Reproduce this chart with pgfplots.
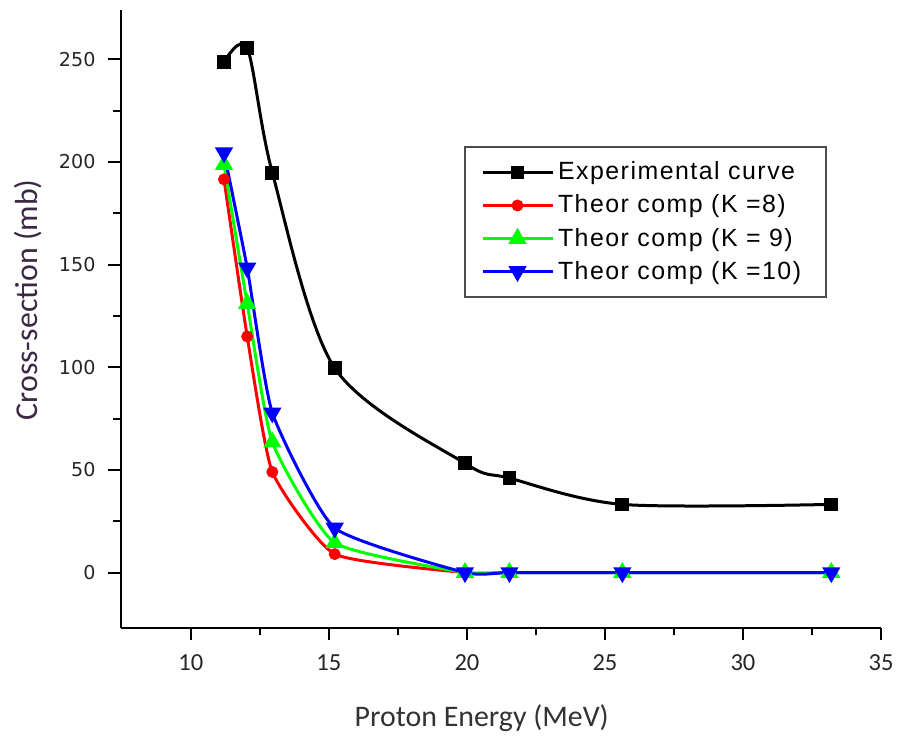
\documentclass[border=0pt]{standalone}
\usepackage{fontspec}
\setmainfont{Carlito}
\newfontfamily\legfont[LetterSpace=6]{Liberation Sans}
\newfontfamily\ytfont{DejaVu Sans}
\usepackage{pgfplots}
\pgfplotsset{compat=1.18}
\definecolor{xgreen}{RGB}{0,255,0}
\definecolor{xblue}{RGB}{0,0,255}
\definecolor{xred}{RGB}{255,0,0}
\definecolor{labcol}{RGB}{60,40,70}
\begin{document}
\begin{tikzpicture}
\begin{axis}[
  scale only axis, width=380.25bp, height=309bp,
  xmin=7.45, xmax=35, ymin=-27, ymax=274,
  axis x line*=bottom, axis y line*=left,
  axis line style={line width=1bp, black},
  tick align=outside, major tick length=6bp, minor tick length=3.5bp,
  every tick/.style={line width=1bp, black},
  xtick={10,15,20,25,30,35}, minor x tick num=1,
  xticklabels={10,15,20,25,\raisebox{-4bp}{30},35},
  ytick={0,50,100,150,200,250}, minor y tick num=1,
  /pgf/number format/assume math mode=true,
  xticklabel style={font=\fontsize{12.3}{14}\selectfont, text=black!85, yshift=-4bp},
  yticklabel style={font=\ytfont\fontsize{9.6}{11}\selectfont, text=black!85, xshift=-3bp},
  xlabel={Proton Energy (MeV)},
  ylabel={Cross-section (mb)},
  xlabel style={at={(axis description cs:0.475,-0.1456)}, anchor=center, font=\fontsize{15}{17}\selectfont, text=black!80},
  ylabel style={at={(axis description cs:-0.122,0.531)}, anchor=center, rotate=0, font=\fontsize{16}{18}\selectfont, text=labcol},
  legend style={at={(0.4517,0.780)}, anchor=north west, draw=black!70, line width=1bp, fill=white,
    font=\legfont\fontsize{12.5}{14}\selectfont, inner xsep=8bp, inner ysep=5.5bp, row sep=2bp,
    cells={anchor=west}, /tikz/every even column/.append style={column sep=2bp}},
  legend image code/.code={\draw[mark repeat=2,mark phase=2,#1] plot coordinates {(0bp,0bp) (17.5bp,0bp) (35bp,0bp)};},
]
\addplot[black, line width=1.5bp, smooth, mark=square*, mark size=2.7bp, mark options={solid}] coordinates {
(11.2,248.5) (12.04,255.5) (12.95,194.8) (15.21,99.6) (19.93,53.2) (21.54,46) (25.63,33.2) (33.2,33.2)};
\addlegendentry{\makebox[124bp][l]{Experimental curve}}
\addplot[xred, line width=1.5bp, smooth, tension=0.3, mark=*, mark size=2.2bp, mark options={solid}] coordinates {
(11.2,191.5) (12.04,115) (12.95,49) (15.21,9) (19.93,0) (21.54,0) (25.63,0) (33.2,0)};
\addlegendentry{Theor comp (K =8)}
\addplot[xgreen, line width=1.5bp, smooth, tension=0.3, mark=triangle*, mark size=3.8bp, mark options={solid}] coordinates {
(11.2,198.7) (12.04,131) (12.95,63.5) (15.21,14.5) (19.93,0) (21.54,0) (25.63,0) (33.2,0)};
\addlegendentry{Theor comp (K = 9)}
\addplot[xblue, line width=1.5bp, smooth, tension=0.3, mark=triangle*, mark size=3.8bp, mark options={solid, rotate=180}] coordinates {
(11.2,204.5) (12.04,148.4) (12.95,77.8) (15.21,21.7) (19.93,0) (21.54,0) (25.63,0) (33.2,0)};
\addlegendentry{Theor comp (K =10)}
\coordinate (O) at (rel axis cs:0,0);
\coordinate (TR) at (rel axis cs:1,1);
\end{axis}
\pgfresetboundingbox
\path[use as bounding box] ([shift={(-60.25bp,-54bp)}]O) rectangle ([shift={(10.5bp,5bp)}]TR);
\end{tikzpicture}
\end{document}
